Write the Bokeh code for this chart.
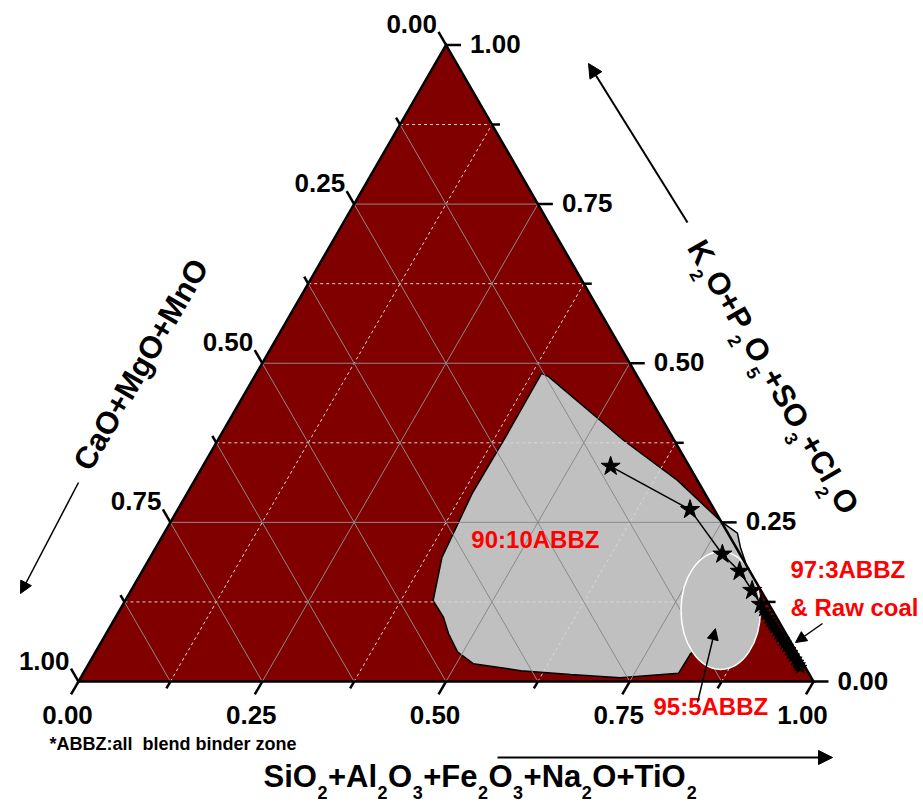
import math
from bokeh.plotting import figure
from bokeh.models import Range1d, Arrow, NormalHead
from bokeh.core.properties import value
from bokeh.embed import file_html
from bokeh.resources import INLINE

# ---------------- data ----------------
# ticks shared by the three ternary axes
tick_values = [0.0, 0.125, 0.25, 0.375, 0.5, 0.625, 0.75, 0.875, 1.0]
tick_labels = ["0.00", "", "0.25", "", "0.50", "", "0.75", "", "1.00"]

# 90:10 ABBZ zone outline (SiO2+Al2O3+... fraction, K2O+P2O5+... fraction)
zone90_sio2 = [0.388, 0.400, 0.505, 0.552, 0.657, 0.749, 0.780, 0.795, 0.814, 0.847,
               0.850, 0.818, 0.811, 0.810, 0.734, 0.664, 0.593, 0.523, 0.493, 0.466,
               0.446, 0.419, 0.397, 0.388, 0.389]
zone90_k2o = [0.484, 0.479, 0.410, 0.379, 0.316, 0.251, 0.233, 0.211, 0.187, 0.146,
              0.088, 0.057, 0.044, 0.013, 0.006, 0.011, 0.017, 0.028, 0.046, 0.075,
              0.101, 0.127, 0.195, 0.295, 0.390]

# 95:5 ABBZ zone (ellipse): centre and extent along the two axes
zone95_sio2 = 0.818
zone95_k2o = 0.1115
zone95_span_sio2 = 0.108
zone95_span_k2o = 0.185

# blend compositions (stars), from the richest binder blend down to raw coal
blend_sio2 = [0.555, 0.697, 0.776, 0.813, 0.845, 0.868,
              0.876, 0.882, 0.889, 0.894, 0.899, 0.904, 0.910, 0.915, 0.920, 0.926,
              0.931, 0.936, 0.942, 0.947, 0.952, 0.958, 0.963, 0.967, 0.971]
blend_k2o = [0.338, 0.270, 0.200, 0.173, 0.143, 0.121,
             0.112, 0.106, 0.100, 0.095, 0.090, 0.085, 0.080, 0.075, 0.070, 0.065,
             0.060, 0.055, 0.050, 0.045, 0.040, 0.035, 0.030, 0.026, 0.022]
n_main_blends = 6

# ---------------- geometry helpers ----------------
SQ = math.sqrt(3) / 2
PX = 735.0          # pixels per unit of triangle side
OX, OY = 78, 681    # canvas pixel of the bottom-left vertex
FONT = "Liberation Sans"


def tern(a, b):
    """ternary (bottom-axis, right-axis) fractions -> cartesian data coords"""
    return a + b / 2.0, b * SQ


def tern_lists(alist, blist):
    pts = [tern(a, b) for a, b in zip(alist, blist)]
    return [q[0] for q in pts], [q[1] for q in pts]


def screen(px, py):
    """canvas pixel position -> data coords (for annotations outside the triangle)"""
    return (px - OX) / PX, (OY - py) / PX


p = figure(width=923, height=802,
           x_range=Range1d(-OX / PX, (923 - OX) / PX),
           y_range=Range1d((OY - 802) / PX, OY / PX),
           output_backend="svg", toolbar_location=None,
           x_axis_location=None, y_axis_location=None,
           min_border=0, outline_line_color=None,
           background_fill_color="white", border_fill_color="white")
p.grid.visible = False

# triangle background
p.patch([0, 1, 0.5], [0, 0, SQ], fill_color="#800000", line_color=None)

# 90:10 zone
zx, zy = tern_lists(zone90_sio2, zone90_k2o)
p.patch(zx, zy, fill_color="#C0C0C0", line_color="black", line_width=1.5)

# grid lines
solid_x, solid_y, dash_x, dash_y = [], [], [], []
for i, v in enumerate(tick_values[1:-1], start=1):
    major = (i % 2 == 0)
    # constant K2O (horizontal)
    x0, y0 = tern(0, v)
    x1, y1 = tern(1 - v, v)
    (solid_x if major else dash_x).append([x0, x1])
    (solid_y if major else dash_y).append([y0, y1])
    # constant SiO2 (parallel to left side)
    x0, y0 = tern(v, 0)
    x1, y1 = tern(v, 1 - v)
    (solid_x if major else dash_x).append([x0, x1])
    (solid_y if major else dash_y).append([y0, y1])
    # constant CaO (parallel to right side)
    x0, y0 = tern(1 - v, 0)
    x1, y1 = tern(0, 1 - v)
    solid_x.append([x0, x1])
    solid_y.append([y0, y1])
p.multi_line(dash_x, dash_y, line_color="#d8d8d8", line_width=1, line_dash="3 3")
p.multi_line(solid_x, solid_y, line_color="#8a8a8a", line_width=1)

# 95:5 zone
ex, ey = tern(zone95_sio2, zone95_k2o)
p.ellipse(x=[ex], y=[ey], width=[zone95_span_sio2], height=[zone95_span_k2o * SQ],
          fill_color="#C0C0C0", line_color="white", line_width=1.5)

# blend path
bx, by = tern_lists(blend_sio2, blend_k2o)
p.line(bx, by, line_color="black", line_width=1.5)
p.scatter(bx[n_main_blends:], by[n_main_blends:], marker="star", size=14,
          fill_color="black", line_color="black")
p.scatter(bx[:n_main_blends], by[:n_main_blends], marker="star", size=20,
          fill_color="black", line_color="black")

# triangle outline
p.patch([0, 1, 0.5], [0, 0, SQ], fill_color=None, line_color="black",
        line_width=2.5, line_join="miter")

# ticks and tick labels (labels placed by their visual centre)
MAJ, MIN = 15 / PX, 8 / PX
tx, ty = [], []
bot = dict(x=[], y=[], t=[])
lft = dict(x=[], y=[], t=[])
rgt = dict(x=[], y=[], t=[])
for v, lab in zip(tick_values, tick_labels):
    L = MAJ if lab else MIN
    # bottom axis: outward along constant-SiO2 line
    x0, y0 = tern(v, 0)
    tx.append([x0, x0 - 0.5 * L]); ty.append([y0, y0 - SQ * L])
    if lab:
        bot["x"].append(x0 - 11 / PX); bot["y"].append(y0 - 33 / PX); bot["t"].append(lab)
    # right axis: outward along constant-K2O line
    x0, y0 = tern(1 - v, v)
    tx.append([x0, x0 + L]); ty.append([y0, y0])
    if lab:
        rgt["x"].append(x0 + 24 / PX); rgt["y"].append(y0 + 1 / PX); rgt["t"].append(lab)
    # left axis (CaO): outward along constant-CaO line
    x0, y0 = tern(0, 1 - v)
    tx.append([x0, x0 - 0.5 * L]); ty.append([y0, y0 + SQ * L])
    if lab:
        lft["x"].append(x0 - 9 / PX); lft["y"].append(y0 + 21 / PX); lft["t"].append(lab)
p.multi_line(tx, ty, line_color="black", line_width=2.5)

tick_style = dict(text_font=value(FONT), text_font_style="bold",
                  text_font_size="26px", text_color="black", text_baseline="middle")
p.text(x=bot["x"], y=bot["y"], text=bot["t"], text_align="center", **tick_style)
p.text(x=rgt["x"], y=rgt["y"], text=rgt["t"], text_align="left", **tick_style)
p.text(x=lft["x"], y=lft["y"], text=lft["t"], text_align="right", **tick_style)

# axis titles with subscripts
CW = {'S': 667, 'i': 278, 'O': 778, '+': 584, 'A': 722, 'l': 278, 'F': 611, 'e': 556,
      'N': 722, 'a': 556, 'T': 611, 'K': 722, 'P': 667, 'C': 722, 'M': 833, 'g': 611,
      'n': 611, '2': 556, '3': 556, '5': 556}


def rich_text(segments, start, angle_deg, size, sub_size, sub_drop, sub_gap):
    """lay out text runs along a line; start is the left end of the centre line"""
    th = math.radians(angle_deg)
    dx, dy = math.cos(th), math.sin(th)
    nx, ny = math.sin(th), -math.cos(th)
    pos = 0.0
    groups = {False: ([], [], []), True: ([], [], [])}
    for s, sub in segments:
        fs = sub_size if sub else size
        if sub:
            pos += sub_gap
        off = sub_drop if sub else 0.0
        g = groups[sub]
        g[0].append(start[0] + (dx * pos + nx * off) / PX)
        g[1].append(start[1] + (dy * pos + ny * off) / PX)
        g[2].append(s)
        pos += sum(CW[c] for c in s) / 1000.0 * fs
        if sub:
            pos += sub_gap
    for sub, (xs, ys, ts) in groups.items():
        if ts:
            p.text(x=xs, y=ys, text=ts, angle=th, text_font=value(FONT),
                   text_font_style="bold",
                   text_font_size=f"{sub_size if sub else size}px",
                   text_align="left", text_baseline="middle", text_color="black")


rich_text([("SiO", 0), ("2", 1), ("+Al", 0), ("2", 1), ("O", 0), ("3", 1), ("+Fe", 0),
           ("2", 1), ("O", 0), ("3", 1), ("+Na", 0), ("2", 1), ("O+TiO", 0), ("2", 1)],
          screen(263, 776), 0, 31, 18, 16, 0.5)
rich_text([("K", 0), ("2", 1), ("O+P", 0), ("2", 1), ("O", 0), ("5", 1), ("+SO", 0),
           ("3", 1), ("+Cl", 0), ("2", 1), ("O", 0)],
          screen(695, 242), -60, 31, 18, 15, 1.5)
rich_text([("CaO+MgO+MnO", 0)], screen(81, 467), 60, 31, 18, 15, 0)

# axis direction arrows
for (x0, y0), (x1, y1), w, hs in [
        (screen(497, 757), screen(832, 757), 2, 14),
        (screen(687, 222), screen(588, 63), 2, 14),
        (screen(78, 482), screen(20, 593), 1.5, 12)]:
    p.add_layout(Arrow(end=NormalHead(size=hs, fill_color="black", line_color="black"),
                       x_start=x0, y_start=y0, x_end=x1, y_end=y1,
                       line_color="black", line_width=w))

# zone labels
red = dict(text_font=value(FONT), text_font_style="bold", text_font_size="24px",
           text_color="#FF0000", text_align="left", text_baseline="middle")
lx, ly = tern(0.423, 0.223)
p.text(x=[lx], y=[ly], text=["90:10ABBZ"], **red)
for s, (px_, py_) in [("97:3ABBZ", (790, 569)), ("& Raw coal", (790, 607)),
                      ("95:5ABBZ", (653, 706))]:
    qx, qy = screen(px_, py_)
    p.text(x=[qx], y=[qy], text=[s], **red)

# pointers from labels into the zones
for (x0, y0), (x1, y1) in [(screen(822, 623), screen(795, 642)),
                           (screen(697, 702), tern(0.825, 0.083))]:
    p.add_layout(Arrow(end=NormalHead(size=11, fill_color="black", line_color="black"),
                       x_start=x0, y_start=y0, x_end=x1, y_end=y1,
                       line_color="black", line_width=1.5))

nx_, ny_ = screen(49, 743)
p.text(x=[nx_], y=[ny_], text=["*ABBZ:all\u00a0 blend binder zone"], text_font=value(FONT),
       text_font_style="bold", text_font_size="18px", text_color="black",
       text_align="left", text_baseline="middle")

open("out.html", "w").write(file_html(p, INLINE))
